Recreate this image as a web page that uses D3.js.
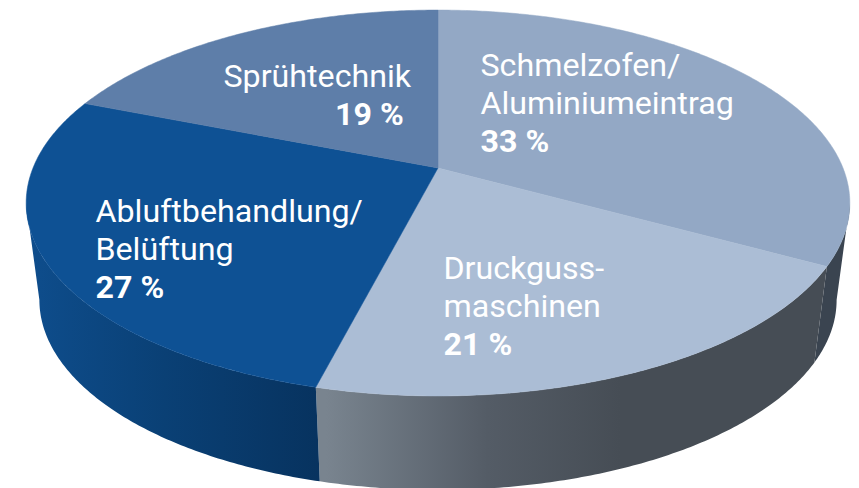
<!DOCTYPE html>
<html>
<head>
<meta charset="utf-8">
<script src="https://cdnjs.cloudflare.com/ajax/libs/d3/7.8.5/d3.min.js"></script>
<style>
  html, body { margin: 0; padding: 0; background: #fff; }
  svg { display: block; }
  text { font-family: Roboto, sans-serif; fill: #fff; font-size: 32.2px; }
</style>
</head>
<body>
<div id="chart"></div>
<script>
// Data, clockwise from 12 o'clock
const categories = [['Schmelzofen/', 'Aluminiumeintrag'], ['Druckguss-', 'maschinen'], ['Abluftbehandlung/', 'Belüftung'], ['Sprühtechnik']];
const shares = [33, 21, 27, 19];

const width = 859;
const height = 488;

const topColors = ['#93a8c5', '#abbdd5', '#0e5194', '#5e7ea9'];
const wallFills = ['#3a4450', 'url(#wall-grey)', 'url(#wall-blue)', '#0b3f75'];

// Label anchors: x and first baseline
const labelPos = [
    { x: 480.5, y: 76 },
    { x: 443.5, y: 279 },
    { x: 95.5, y: 222 },
    { x: 223.5, y: 87, valueX: 335 }
];
const lineGap = 38;

// Tilted disc: perspective projection of a unit circle onto the page
const tilt = -0.1814;
const center = [438, 168];
function ring(cx, cy, rx, ry) {
    return angle => {
        const u = Math.sin(angle);
        const v = -Math.cos(angle);
        const w = 1 + tilt * v;
        return [cx + rx * u / w, cy + ry * v / w];
    };
}
const topRing = ring(center[0], center[1], 405, 186.6);
const bottomRing = ring(438, 265.5, 392, 183.7);

// Angles where the disc edge turns from front to back
const frontStart = Math.acos(tilt);
const frontEnd = 2 * Math.PI - frontStart;

function arcAngles(a0, a1) {
    const steps = Math.ceil(Math.abs(a1 - a0) / 0.01);
    return d3.range(steps + 1).map(i => a0 + (a1 - a0) * i / steps);
}

const svg = d3.select('#chart')
    .append('svg')
    .attr('width', width)
    .attr('height', height);

// Wall gradients
const defs = svg.append('defs');
function addGradient(id, x1, x2, stops) {
    const g = defs.append('linearGradient')
        .attr('id', id)
        .attr('gradientUnits', 'userSpaceOnUse')
        .attr('x1', x1).attr('x2', x2)
        .attr('y1', 0).attr('y2', 0);
    stops.forEach(([offset, color]) => {
        g.append('stop').attr('offset', offset).attr('stop-color', color);
    });
}
addGradient('wall-grey', 326, 620, [[0, '#79848f'], [0.55, '#545c66'], [1, '#464d55']]);
addGradient('wall-blue', 30, 328, [[0, '#0e4d8c'], [0.45, '#0a4075'], [1, '#07325e']]);

const pie = d3.pie().value(d => d).sort(null);
const slices = pie(shares);
const line = d3.line();

// Only the front part of each slice has a visible wall
function wallPath(d) {
    const a0 = Math.max(d.startAngle, frontStart);
    const a1 = Math.min(d.endAngle, frontEnd);
    const angles = arcAngles(a0, a1);
    return line(angles.map(topRing).concat(angles.reverse().map(bottomRing))) + 'Z';
}

svg.append('g')
    .selectAll('path')
    .data(slices.filter(d => d.endAngle > frontStart && d.startAngle < frontEnd))
    .enter()
    .append('path')
    .attr('d', wallPath)
    .attr('fill', d => wallFills[d.index]);

// Top surface
svg.append('g')
    .selectAll('path')
    .data(slices)
    .enter()
    .append('path')
    .attr('d', d => line([center].concat(arcAngles(d.startAngle, d.endAngle).map(topRing))) + 'Z')
    .attr('fill', d => topColors[d.index])
    .attr('stroke', d => topColors[d.index])
    .attr('stroke-width', 0.5);

// Labels
const labels = svg.append('g')
    .selectAll('g')
    .data(slices)
    .enter()
    .append('g');

labels.each(function(d) {
    const pos = labelPos[d.index];
    const group = d3.select(this);
    const names = categories[d.index];
    names.forEach((name, i) => {
        group.append('text')
            .attr('x', pos.x)
            .attr('y', pos.y + i * lineGap)
            .text(name);
    });
    group.append('text')
        .attr('x', pos.valueX || pos.x)
        .attr('y', pos.y + names.length * lineGap)
        .attr('font-weight', 700)
        .text(`${d.data} %`);
});
</script>
</body>
</html>
